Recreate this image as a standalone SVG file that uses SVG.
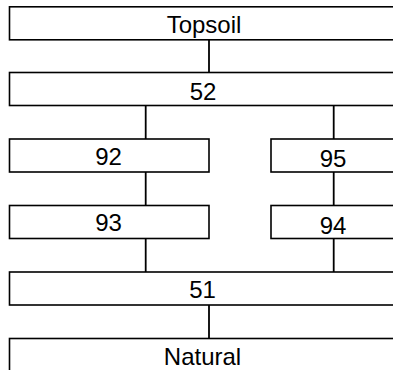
<svg xmlns="http://www.w3.org/2000/svg" width="393" height="370" viewBox="0 0 393 370">
<style>
.box{fill:#fff;stroke:#000;stroke-width:1.6}
.lbl{font-family:"Liberation Sans",Arial,sans-serif;font-size:24px;fill:#000;text-anchor:middle}
.con line{stroke:#000;stroke-width:1.8}
</style>
<rect width="393" height="370" fill="#fff"/>
<g id="connectors" class="con">
<line x1="209" y1="40" x2="209" y2="72"/>
<line x1="145.7" y1="106" x2="145.7" y2="139"/>
<line x1="333.7" y1="106" x2="333.7" y2="139"/>
<line x1="145.7" y1="172" x2="145.7" y2="205.5"/>
<line x1="333.7" y1="172" x2="333.7" y2="205.5"/>
<line x1="145.7" y1="239" x2="145.7" y2="272"/>
<line x1="333.7" y1="239" x2="333.7" y2="272"/>
<line x1="209" y1="305" x2="209" y2="338.5"/>
</g>
<g id="topsoil"><rect class="box" x="9.5" y="6.8" width="400" height="33"/><text class="lbl" x="204" y="33.3">Topsoil</text></g>
<g id="n52"><rect class="box" x="9.5" y="72.5" width="400" height="33"/><text class="lbl" x="203" y="100">52</text></g>
<g id="n92"><rect class="box" x="9.5" y="139" width="199.5" height="33"/><text class="lbl" x="108.5" y="164.5">92</text></g>
<g id="n95"><rect class="box" x="271" y="139" width="130" height="33"/><text class="lbl" x="333" y="167">95</text></g>
<g id="n93"><rect class="box" x="9.5" y="205.5" width="199.5" height="33"/><text class="lbl" x="108.5" y="231">93</text></g>
<g id="n94"><rect class="box" x="271" y="205.5" width="130" height="33"/><text class="lbl" x="333" y="233.5">94</text></g>
<g id="n51"><rect class="box" x="9.5" y="272" width="400" height="33"/><text class="lbl" x="202.5" y="297.5">51</text></g>
<g id="natural"><rect class="box" x="9.5" y="338.5" width="400" height="40"/><text class="lbl" x="202.5" y="365">Natural</text></g>
</svg>
